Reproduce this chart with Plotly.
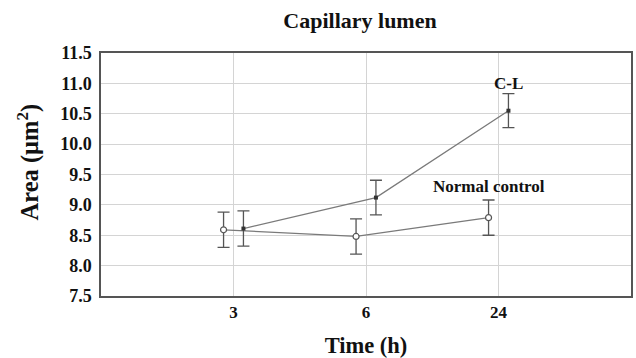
import plotly.graph_objects as go

categories = ["3", "6", "24"]
normal_mean = [8.59, 8.48, 8.79]
normal_err = [0.29, 0.29, 0.29]
cl_mean = [8.61, 9.12, 10.55]
cl_err = [0.29, 0.285, 0.28]
y_ticks = [7.5, 8.0, 8.5, 9.0, 9.5, 10.0, 10.5, 11.0, 11.5]

pos = list(range(1, len(categories) + 1))
off = 0.075
x_normal = [p - off for p in pos]
x_cl = [p + off for p in pos]

font = "Liberation Serif, Times New Roman, serif"

fig = go.Figure()
fig.add_trace(go.Scatter(
    x=x_normal, y=normal_mean, mode="lines+markers",
    line=dict(color="#7a7a7a", width=1.3),
    marker=dict(symbol="circle", size=6, color="white", line=dict(color="#555555", width=1.2)),
    error_y=dict(type="data", array=normal_err, color="#555555", thickness=1.3, width=6),
    showlegend=False,
))
fig.add_trace(go.Scatter(
    x=x_cl, y=cl_mean, mode="lines+markers",
    line=dict(color="#7a7a7a", width=1.3),
    marker=dict(symbol="square", size=4, color="#333333"),
    error_y=dict(type="data", array=cl_err, color="#555555", thickness=1.3, width=6),
    showlegend=False,
))

fig.add_annotation(x=x_cl[2], y=11.0, text="<b>C-L</b>", showarrow=False,
                   font=dict(family=font, size=17, color="#111111"))
fig.add_annotation(x=x_normal[2], y=9.3, text="<b>Normal control</b>", showarrow=False,
                   font=dict(family=font, size=17, color="#111111"))
fig.add_annotation(xref="paper", yref="paper", x=-73 / 532, y=(296 - 162) / 243.3,
                   xanchor="center", yanchor="middle", textangle=-90,
                   text="<b>Area (μm<sup>2</sup>)</b>", showarrow=False,
                   font=dict(family=font, size=24.5, color="#111111"))

fig.update_layout(
    width=636, height=358,
    margin=dict(l=101, r=3, t=53, b=62),
    paper_bgcolor="white", plot_bgcolor="white",
    title=dict(text="<b>Capillary lumen</b>", x=360 / 636, xanchor="center", y=1 - 20 / 358, yanchor="middle",
               font=dict(family=font, size=22, color="#111111")),
)
fig.update_xaxes(
    range=[0, 4], tickmode="array", tickvals=pos, ticktext=[f"<b>{c}</b>" for c in categories],
    showgrid=True, gridcolor="#d4d4d4", gridwidth=1,
    showline=True, linecolor="#555555", linewidth=1.5, mirror=True,
    ticks="", zeroline=False,
    tickfont=dict(family=font, size=17, color="#111111"),
    title=dict(text="<b>Time (h)</b>", font=dict(family=font, size=22.5, color="#111111"), standoff=16),
)
fig.update_yaxes(
    range=[7.5, 11.5], tickmode="array", tickvals=y_ticks,
    ticktext=[f"<b>{v:.1f}</b>" for v in y_ticks],
    showgrid=True, gridcolor="#d4d4d4", gridwidth=1,
    showline=True, linecolor="#555555", linewidth=1.5, mirror=True,
    ticks="", zeroline=False, ticklabelstandoff=4,
    tickfont=dict(family=font, size=18, color="#111111"),
)

fig.write_html("out.html")
